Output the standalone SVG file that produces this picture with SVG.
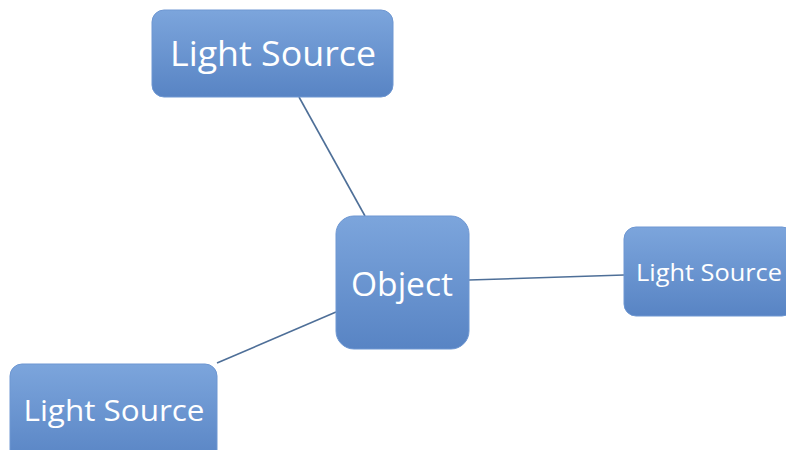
<svg xmlns="http://www.w3.org/2000/svg" width="786" height="450" viewBox="0 0 786 450">
<defs>
<linearGradient id="g" x1="0" y1="0" x2="0" y2="1">
<stop offset="0" stop-color="#7CA5DC"/>
<stop offset="1" stop-color="#5884C4"/>
</linearGradient>
<style>
.box{fill:url(#g);stroke:#6E97D2;stroke-width:1}
.lbl{fill:#ffffff;font-family:"Open Sans","Noto Sans",sans-serif;text-anchor:middle}
.con{stroke:#4E6F98;stroke-width:1.6;fill:none}
</style>
</defs>
<rect width="786" height="450" fill="#ffffff"/>
<g id="connectors">
<line class="con" x1="299" y1="97" x2="365" y2="216"/>
<line class="con" x1="469" y1="280" x2="624" y2="275"/>
<line class="con" x1="217" y1="363" x2="336" y2="312"/>
</g>
<g id="top">
<rect class="box" x="152" y="10" width="241" height="87" rx="12"/>
<text class="lbl" x="273" y="66" font-size="34" textLength="206" lengthAdjust="spacingAndGlyphs">Light Source</text>
</g>
<g id="object">
<rect class="box" x="336" y="216" width="133" height="133" rx="18"/>
<text class="lbl" x="402" y="296" font-size="32" textLength="102" lengthAdjust="spacingAndGlyphs">Object</text>
</g>
<g id="right">
<rect class="box" x="624" y="227" width="170" height="89" rx="12"/>
<text class="lbl" x="709" y="281" font-size="24" textLength="146" lengthAdjust="spacingAndGlyphs">Light Source</text>
</g>
<g id="bottom">
<rect class="box" x="10" y="364" width="207" height="100" rx="12"/>
<text class="lbl" x="114" y="421" font-size="30" textLength="181" lengthAdjust="spacingAndGlyphs">Light Source</text>
</g>
</svg>
